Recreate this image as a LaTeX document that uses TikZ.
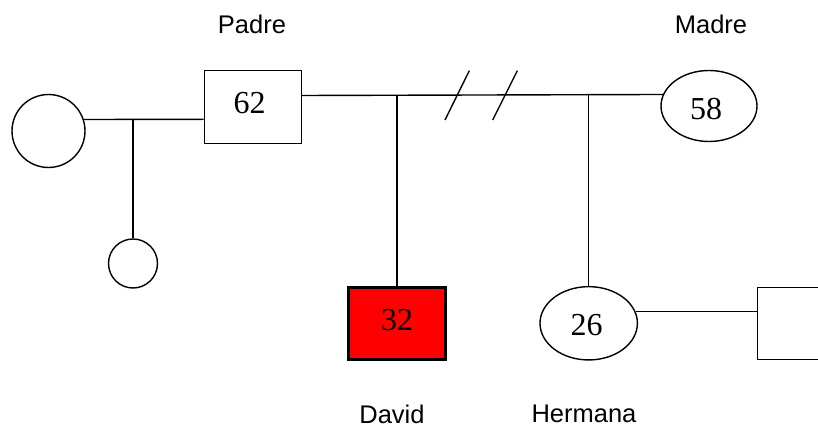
\documentclass[tikz,border=0pt]{standalone}
\usepackage{fontspec}
\setmainfont{Liberation Serif}
\newfontfamily\labelfont{Liberation Sans}
\usetikzlibrary{shapes.geometric}
\tikzset{
  x=1pt, y=-1pt,
  pedline/.style={line width=1.4pt},
  person/.style={pedline, draw, inner sep=0pt},
  male/.style={person, rectangle, minimum width=97pt, minimum height=72.5pt},
  female/.style={person, ellipse, minimum width=97pt, minimum height=72pt},
  woman/.style={person, circle},
  affected/.style={male, fill=red, line width=3pt, minimum width=96.4pt, minimum height=71.7pt},
  age/.style={font=\fontsize{32}{32}\selectfont, inner sep=0pt},
  nametext/.style={font=\labelfont\fontsize{25.5}{25.5}\selectfont, inner sep=0pt}
}
\begin{document}
\begin{tikzpicture}
  \useasboundingbox (0,0) rectangle (818,427);
  \clip (0,0) rectangle (818,427);

  % family members, ages printed inside
  \node[woman, minimum size=73pt] (wife1) at (48.5,131) {};
  \node[woman, minimum size=49pt] (child1) at (133,263.5) {};
  \node[male, label={[age, xshift=-3pt, yshift=4pt]center:62}] (padre) at (252.7,107) {};
  \node[female, minimum width=96pt, minimum height=71pt,
        label={[age, xshift=-3pt, yshift=-3pt]center:58}] (madre) at (709,106) {};
  \node[affected, label={[age, yshift=3pt]center:32}] (david) at (397,323.3) {};
  \node[female, minimum width=97.4pt, minimum height=73.3pt,
        label={[age, xshift=-2pt, yshift=-2pt]center:26}] (hermana) at (588.7,323.3) {};
  \node[male, anchor=west, minimum width=98pt, minimum height=72pt] (spouse) at (756.7,323.3) {};

  % names
  \node[nametext] (lpadre) at (252,24) {Padre};
  \node[nametext] (lmadre) at (711,24) {Madre};
  \node[nametext] (ldavid) at (392,414) {David};
  \node[nametext] (lhermana) at (584,414) {Hermana};

  % first union and its child
  \coordinate (m1) at (133,119.3);
  \draw[pedline] (wife1.18.7) -- (padre.west |- m1);
  \draw[pedline] (m1) -- (child1.north);

  % second union (separated) and its children
  \coordinate (m2) at (0,95.5);
  \draw[pedline] (padre.east |- m2) -- (madre.166.4);
  \coordinate (c1) at (david.north |- m2);
  \coordinate (c2) at (hermana.north |- m2);
  \draw[pedline] (c1) -- (david.north);
  \draw[pedline] (c2) -- (hermana.north);

  % separation marks
  \draw[pedline] (445,120) -- (469.3,70.7);
  \draw[pedline] (492.7,120) -- (517.3,70.7);

  % sister's union
  \draw[pedline] (hermana.14.6) -- (spouse.west |- hermana.14.6);
\end{tikzpicture}
\end{document}
